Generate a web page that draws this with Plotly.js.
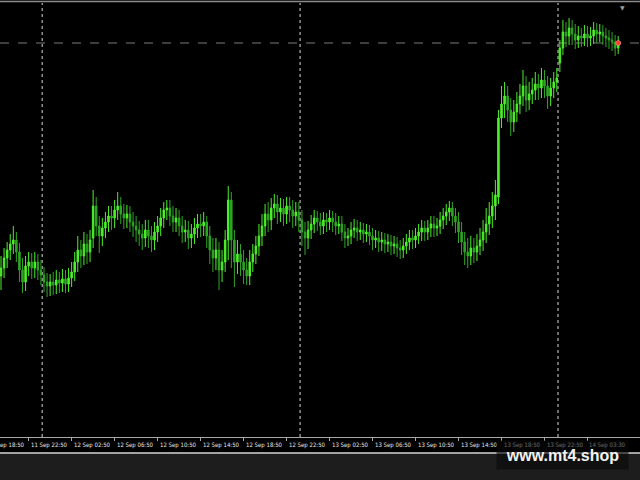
<!DOCTYPE html>
<html><head><meta charset="utf-8">
<script src="https://cdn.plot.ly/plotly-3.0.1.min.js"></script>
<style>html,body{margin:0;padding:0;background:#000;overflow:hidden}#chart{width:640px;height:480px}</style>
</head><body><div id="chart"></div>
<script>
const openP = [164,172,182,190,196,200,188,170,158,174,
178,172,178,170,165,158,154,158,155,160,
157,161,156,162,168,178,190,184,196,188,
202,234,214,204,212,218,224,222,230,234,
226,222,226,218,214,210,206,202,210,204,
200,208,214,222,230,232,224,218,222,214,
208,210,202,206,212,216,214,218,204,190,
182,190,170,178,200,240,200,178,186,178,
170,164,178,186,194,204,214,226,220,232,
236,228,232,226,234,230,224,228,220,208,
202,210,216,222,218,214,220,218,222,218,
214,216,208,202,204,210,212,208,210,206,
208,204,200,202,198,200,196,198,194,196,
192,190,194,198,202,200,204,208,212,208,
212,216,212,214,220,224,228,232,224,218,
208,198,188,184,192,188,194,200,208,216,
224,234,243,322,336,344,330,318,328,336,
344,354,340,346,350,356,352,360,354,344,
352,358,377,392,408,404,412,406,400,404,
402,406,402,404,410,406,408,404,402,400,
398,392];
const highP = [184,192,198,206,214,208,197,182,184,188,
187,188,186,180,173,167,166,168,170,168,
171,170,172,178,188,204,200,208,206,210,
250,243,224,222,228,234,234,240,248,243,
236,235,234,228,224,219,216,220,220,214,
218,224,232,238,240,240,234,232,230,224,
220,219,216,222,226,226,228,224,214,202,
202,198,190,210,254,248,210,200,196,190,
182,190,196,204,216,226,236,238,242,246,
245,242,241,243,243,240,238,238,230,218,
219,225,230,229,227,228,227,230,229,227,
224,224,216,212,218,221,220,218,217,216,
215,212,210,209,208,207,206,205,204,203,
200,202,206,210,210,212,216,220,219,220,
224,224,222,228,232,236,239,238,232,228,
218,208,202,204,202,206,212,220,232,238,
248,260,330,354,358,354,342,340,348,356,
370,364,358,362,368,366,372,370,364,362,
368,372,400,420,418,422,420,416,414,412,
415,414,413,418,417,416,415,412,410,408,
405,404];
const lowP = [150,162,172,180,186,178,158,147,149,164,
161,162,160,155,148,143,144,145,146,147,
148,147,148,153,159,168,172,175,176,178,
192,204,187,194,202,208,210,212,220,216,
211,212,208,203,198,194,190,193,192,188,
190,198,204,212,220,214,208,208,204,197,
198,191,192,196,202,203,204,192,176,168,
170,150,158,168,180,172,153,166,164,156,
155,155,168,176,184,194,204,208,210,222,
216,218,214,216,218,212,214,208,194,185,
191,201,207,209,205,206,208,210,208,205,
206,199,192,194,196,202,199,200,197,198,
195,190,192,188,189,187,188,185,186,183,
181,182,186,190,191,192,196,199,199,200,
203,203,204,206,211,215,219,214,207,197,
185,175,172,175,177,179,185,189,197,205,
212,220,236,312,322,318,304,308,318,326,
334,328,330,336,340,340,342,342,331,334,
342,348,368,385,393,395,395,391,392,393,
394,393,394,396,397,398,395,393,391,389,
384,386];
const closeP = [172,182,190,196,200,188,170,158,174,178,
172,178,170,165,158,154,158,155,160,157,
161,156,162,168,178,190,184,196,188,200,
234,214,204,212,218,224,222,230,234,226,
222,226,218,214,210,206,202,210,204,200,
208,214,222,230,232,224,218,222,214,208,
210,202,206,212,216,214,218,204,190,182,
190,170,178,200,240,200,178,186,178,170,
164,178,186,194,204,214,226,220,232,236,
228,232,226,234,230,224,228,220,208,202,
210,216,222,218,214,220,218,222,218,214,
216,208,202,204,210,212,208,210,206,208,
204,200,202,198,200,196,198,194,196,192,
190,194,198,202,200,204,208,212,208,212,
216,212,214,220,224,228,232,224,218,208,
198,188,184,192,188,194,200,208,216,224,
234,245,322,336,344,330,318,328,336,344,
354,340,346,350,356,352,360,354,344,352,
358,362,392,408,404,412,406,400,404,402,
406,402,404,410,406,408,404,402,400,398,
392,397];
const tickIdx = [-5,9,23,37,51,65,79,93,107,121,135,149,163,177,191];
const tickText = ['11 Sep 18:50','11 Sep 22:50','12 Sep 02:50','12 Sep 06:50','12 Sep 10:50','12 Sep 14:50','12 Sep 18:50','12 Sep 22:50','13 Sep 02:50','13 Sep 06:50','13 Sep 10:50','13 Sep 14:50','13 Sep 18:50','13 Sep 22:50','14 Sep 03:30'];
const sepIdx = [13.4, 97.4, 181.4];
const watermark = 'www.mt4.shop';

const N = closeP.length;
const barIdx = closeP.map((_, i) => i);
const X0 = -0.33, X1 = 208.1;
const Y0 = 3, Y1 = 437;
const PH = 434, MB = 43, MT = 3;
const lastClose = closeP[N - 1];
const px2paperX = v => (v - X0) / (X1 - X0);
const pyPaper = Y => -(Y - (MT + PH)) / PH; // page pixel row -> paper y

const traces = [{
  type: 'candlestick', x: barIdx, open: openP, high: highP, low: lowP, close: closeP,
  increasing: {line: {color: '#4cf02a', width: 1}, fillcolor: '#4cf02a'},
  decreasing: {line: {color: '#2fa526', width: 1}, fillcolor: '#2fa526'},
  whiskerwidth: 0, hoverinfo: 'none', showlegend: false
}, {
  type: 'scatter', mode: 'markers', x: [N - 1], y: [lastClose],
  marker: {color: '#ff3a2a', size: 5, line: {color: '#ffb0a0', width: 0.5}},
  hoverinfo: 'none', showlegend: false
}];

const shapes = [];
sepIdx.forEach(s => shapes.push({type: 'line', xref: 'x', yref: 'paper', x0: s, x1: s, y0: 0, y1: 1,
  line: {color: '#d8d8d8', width: 1, dash: 'dot'}, layer: 'below'}));
shapes.push({type: 'line', xref: 'paper', yref: 'y', x0: 0, x1: 1, y0: lastClose, y1: lastClose,
  line: {color: '#7a7a7a', width: 1, dash: 'dash'}, layer: 'below'});
shapes.push({type: 'line', xref: 'paper', yref: 'paper', x0: 0, x1: 1, y0: pyPaper(1.5), y1: pyPaper(1.5),
  line: {color: '#8c8c8c', width: 1.5}});
shapes.push({type: 'rect', xref: 'paper', yref: 'paper', x0: 0, x1: 1, y0: pyPaper(453), y1: pyPaper(481),
  fillcolor: '#1d1d1d', line: {width: 0}});
shapes.push({type: 'line', xref: 'paper', yref: 'paper', x0: 0, x1: 1, y0: pyPaper(453), y1: pyPaper(453),
  line: {color: '#d4d4d4', width: 1.4}});

const annotations = tickIdx.map((t, k) => ({
  xref: 'paper', yref: 'paper', x: px2paperX(t), y: 0, xanchor: 'left', yanchor: 'top',
  xshift: 1, yshift: -3, text: tickText[k], showarrow: false, borderpad: 0,
  font: {family: 'DejaVu Sans Condensed, sans-serif', size: 6, color: '#e8e8e8'}
}));
annotations.push({xref: 'paper', yref: 'paper', x: 622 / 640, y: 1, yanchor: 'top', xanchor: 'center',
  text: '▼', showarrow: false, borderpad: 0, font: {size: 6, color: '#9a9a9a', family: 'DejaVu Sans'}});
annotations.push({xref: 'paper', yref: 'paper', x: 562.5 / 640, y: pyPaper(455.5), xanchor: 'center', yanchor: 'middle',
  text: '<b>' + watermark + '</b>', showarrow: false, width: 131, height: 28, borderpad: 0,
  bgcolor: 'rgba(8,8,8,0.6)', font: {family: 'Liberation Sans, Arial, sans-serif', size: 16, color: '#f2f2f2'}});

const layout = {
  width: 640, height: 480, margin: {l: 0, r: 0, t: MT, b: MB, pad: 0},
  paper_bgcolor: '#000', plot_bgcolor: '#000', showlegend: false,
  xaxis: {type: 'linear', range: [X0, X1], rangeslider: {visible: false}, showgrid: false, zeroline: false,
    tickmode: 'array', tickvals: tickIdx, ticktext: tickText, showticklabels: false,
    ticks: 'outside', ticklen: 3, tickcolor: '#a8a8a8', showline: true, linecolor: '#a8a8a8', linewidth: 1,
    fixedrange: true},
  yaxis: {range: [Y0, Y1], visible: false, showgrid: false, zeroline: false, fixedrange: true},
  shapes: shapes, annotations: annotations
};
Plotly.newPlot('chart', traces, layout, {staticPlot: true, displayModeBar: false});
</script></body></html>
